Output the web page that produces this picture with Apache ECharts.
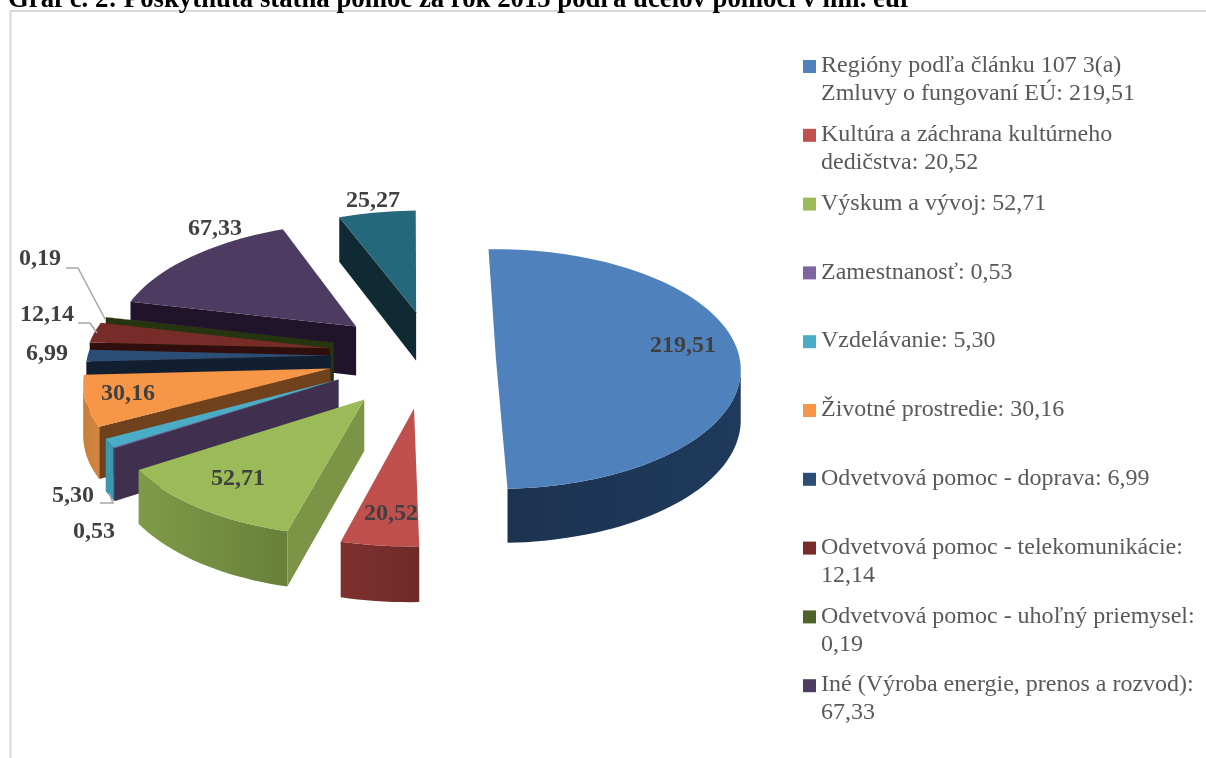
<!DOCTYPE html>
<html>
<head>
<meta charset="utf-8">
<title>Graf č. 2</title>
<script src="https://cdn.jsdelivr.net/npm/echarts@6/dist/echarts.min.js"></script>
<style>
    html, body { margin: 0; padding: 0; background: #fff; overflow: hidden; }
    #chart { width: 1206px; height: 758px; }
</style>
</head>
<body>
<div id="chart"></div>
<script>
// Chart values
const chartTitle = 'Graf č. 2: Poskytnutá štátna pomoc za rok 2015 podľa účelov pomoci v mil. eur';
const categories = [
    'Regióny podľa článku 107 3(a)\nZmluvy o fungovaní EÚ: 219,51',
    'Kultúra a záchrana kultúrneho\ndedičstva: 20,52',
    'Výskum a vývoj: 52,71',
    'Zamestnanosť: 0,53',
    'Vzdelávanie: 5,30',
    'Životné prostredie: 30,16',
    'Odvetvová pomoc - doprava: 6,99',
    'Odvetvová pomoc - telekomunikácie:\n12,14',
    'Odvetvová pomoc - uhoľný priemysel:\n0,19',
    'Iné (Výroba energie, prenos a rozvod):\n67,33'
];
// the last slice has no entry in the legend
const values = [219.51, 20.52, 52.71, 0.53, 5.30, 30.16, 6.99, 12.14, 0.19, 67.33, 25.27];

// Slice colours: top face, outer wall (left, right), inner wall
const topColors = ['#4f81bd', '#c0504d', '#9bbb59', '#8064a2', '#4bacc6', '#f79646', '#2c4d75', '#772c2a', '#4f6228', '#4d3b62', '#25677b'];
const wallColors = [
    ['#1c3350', '#1f3a5c'], ['#7e312f', '#6e2b29'], ['#7f9b48', '#68803a'], ['#40304f', '#40304f'],
    ['#3a97ad', '#3a97ad'], ['#c87f3b', '#d18540'], ['#121f30', '#121f30'], ['#300e0d', '#300e0d'],
    ['#263510', '#263510'], ['#20142a', '#20142a'], ['#102a33', '#102a33']
];
const edgeColors = ['#1c3350', '#6e2b29', '#7b9446', '#40304f', '#2c7f95', '#6f411d', '#121f30', '#300e0d', '#263510', '#20142a', '#102a33'];

// Layout of the tilted pie
const pie = { cx: 435, cy: 360, px: 477, rx: 244, ry: 120, persp: 0.083, depth: 50, startAngle: -1.5 };
// how far each slice is pulled out, and how many degrees off its middle
const explodes = [0.25, 0.40, 0.425, 0.42, 0.42, 0.43, 0.43, 0.447, 0.447, 0.44, 0.42];
const explodeTurns = [0, 5, 4.7, 9.6, 7.3, 5.8, 5, 5, 6.5, 0, 0];
const labelSpots = [[683, 346], [391, 514], [238, 479], [94, 532], [73, 496], [128, 394], [47, 354], [47, 315], [40, 259], [215, 229], [373, 201]];
const leaders = {
    4: [[100, 503], [113, 503], [109, 493]],
    7: [[78, 323], [90, 323], [97, 333]],
    8: [[66, 268], [78, 268], [105, 319]]
};

const total = values.reduce((a, b) => a + b, 0);

function project(u, v) {
    const s = 1 + pie.persp * v;
    return [pie.px + (pie.cx + pie.rx * u - pie.px) * s, pie.cy + pie.ry * v * s, s];
}

function wallPolygon(points, fill) {
    // top edge followed by the same edge pushed down by the depth
    const lower = points.map(p => [p[0], p[1] + pie.depth * p[2]]).reverse();
    return {
        type: 'polygon',
        shape: { points: points.map(p => [p[0], p[1]]).concat(lower) },
        style: { fill: fill }
    };
}

// Draws one slice from its value: angles come from the shares of the total
function renderSlice(index, api) {
    const value = api.value(0);
    const before = values.slice(0, index).reduce((a, b) => a + b, 0);
    const from = pie.startAngle + before / total * 360;
    const to = from + value / total * 360;
    const mid = ((from + to) / 2 + explodeTurns[index]) * Math.PI / 180;
    const ou = explodes[index] * Math.sin(mid);
    const ov = -explodes[index] * Math.cos(mid);
    const apex = project(ou, ov);

    const arc = [];
    const steps = Math.max(1, Math.ceil((to - from) / 2));
    for (let i = 0; i <= steps; i++) {
        const a = (from + (to - from) * i / steps) * Math.PI / 180;
        arc.push(project(ou + Math.sin(a), ov - Math.cos(a)));
    }

    const base = (values.length - index) * 10;
    const children = [];

    // walls facing the viewer only
    const first = arc[0];
    if (first[0] - apex[0] < -0.15 * Math.abs(first[1] - apex[1])) {
        const wall = wallPolygon([apex, first], edgeColors[index]);
        wall.z2 = base;
        children.push(wall);
    }
    const visibleArc = arc.filter((p, i) =>
        (i > 0 && p[0] < arc[i - 1][0]) || (i < arc.length - 1 && arc[i + 1][0] < p[0]));
    if (visibleArc.length > 1) {
        const wall = wallPolygon(visibleArc, {
            type: 'linear', x: 0, y: 0, x2: 1, y2: 0,
            colorStops: [
                { offset: 0, color: wallColors[index][0] },
                { offset: 1, color: wallColors[index][1] }
            ]
        });
        wall.z2 = base + 1;
        children.push(wall);
    }

    // top face
    children.push({
        type: 'polygon',
        z2: base + 2,
        shape: { points: [[apex[0], apex[1]]].concat(arc.map(p => [p[0], p[1]])) },
        style: { fill: topColors[index] }
    });

    if (leaders[index]) {
        children.push({
            type: 'polyline',
            z2: 1000,
            shape: { points: leaders[index] },
            style: { stroke: '#a6a6a6', lineWidth: 1.5, fill: null }
        });
    }

    children.push({
        type: 'text',
        z2: 1001,
        x: labelSpots[index][0],
        y: labelSpots[index][1],
        style: {
            text: value.toFixed(2).replace('.', ','),
            fill: '#404040',
            font: 'bold 24px "Liberation Serif"',
            align: 'center',
            verticalAlign: 'middle'
        }
    });

    return { type: 'group', children: children };
}

const seriesList = values.map((value, index) => ({
    type: 'custom',
    name: categories[index] || '',
    coordinateSystem: 'none',
    itemStyle: { color: topColors[index] },
    renderItem: (params, api) => renderSlice(index, api),
    data: [[value]],
    silent: true,
    animation: false
}));

// Legend marker with an empty lower part, so it stays on the first text line
const legendIcon = 'path://M0 0L0 0 M0 8H13V21H0Z M0 56L0 56';

const chart = echarts.init(document.getElementById('chart'), null, { renderer: 'canvas' });
chart.setOption({
    backgroundColor: '#ffffff',
    animation: false,
    title: {
        text: chartTitle,
        left: 8,
        top: -13,
        padding: 0,
        textStyle: { fontFamily: 'Liberation Serif', fontWeight: 'bold', fontSize: 26.75, color: '#000000' }
    },
    legend: {
        data: categories,
        orient: 'vertical',
        left: 803,
        top: 52,
        padding: 0,
        itemWidth: 13,
        itemHeight: 56,
        itemGap: 12.8,
        selectedMode: false,
        icon: legendIcon,
        formatter: name => name.indexOf('\n') < 0 ? name + '\n ' : name,
        textStyle: { fontFamily: 'Liberation Serif', fontSize: 24, lineHeight: 28, color: '#595959' }
    },
    graphic: [{
        type: 'polyline',
        silent: true,
        shape: { points: [[10.5, 758], [10.5, 11], [1206, 11]] },
        style: { stroke: '#d9d9d9', lineWidth: 2, fill: null }
    }],
    series: seriesList
});
</script>
</body>
</html>
